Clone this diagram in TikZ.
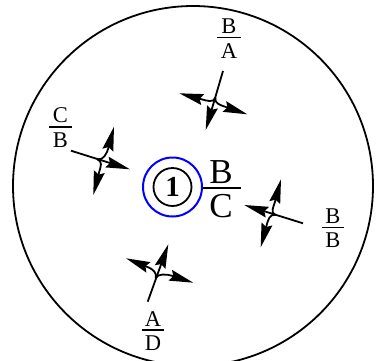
\documentclass[tikz,border=0pt]{standalone}
\usepackage{fontspec}
\setmainfont{Liberation Serif}
\usetikzlibrary{arrows.meta,calc}
\tikzset{
  ring/.style={circle,draw,inner sep=0pt,line width=1.8pt},
  smalltxt/.style={inner sep=0pt,anchor=base,font=\fontsize{22.5}{24}\selectfont},
  bigtxt/.style={inner sep=0pt,anchor=base,font=\fontsize{35}{38}\selectfont},
  bar/.style={line width=1.8pt},
  flow/.style={line width=1.8pt,-{Stealth[length=24pt,width=11pt,inset=3pt]}},
}
% #1 start, #2 junction, #3 straight tip, #4 tip a, #5 base a, #6 tip b, #7 base b
\newcommand{\fourway}[7]{%
  \coordinate (s) at #1; \coordinate (j) at #2; \coordinate (t) at #3;
  \coordinate (ta) at #4; \coordinate (ba) at #5;
  \coordinate (tb) at #6; \coordinate (bb) at #7;
  \draw[flow] (s) -- (t);
  \draw[flow] (j) .. controls ($(j)!-0.22!(s)$) and ($(ba)!-0.2!(ta)$) .. (ba) -- (ta);
  \draw[flow] (j) .. controls ($(j)!-0.22!(s)$) and ($(bb)!-0.2!(tb)$) .. (bb) -- (tb);
}
\begin{document}
\begin{tikzpicture}[x=1pt,y=-1pt]
\useasboundingbox (0,0) rectangle (376,360);
\clip (0,0) rectangle (376,360);
\node[ring,minimum size=360pt] (outer) at (193,186) {};
\node[ring,draw=blue,minimum size=59pt,line width=2pt] (blue) at (172.5,187) {};
\node[ring,minimum size=38pt,font=\fontsize{29}{32}\selectfont\bfseries] (one) at (172.5,187) {1};
% central fraction
\coordinate (barend) at (241,188);
\draw[bar] (blue.east |- barend) -- (barend);
\node[bigtxt] (bb) at (221,183) {B};
\node[bigtxt] (bc) at (221,217) {C};
% top
\node[smalltxt] (t1) at (229,33) {B};
\node[smalltxt] (t2) at (229,58) {A};
\coordinate (t3) at (217,37.5); \coordinate (t4) at (240.5,37.5);
\draw[bar] (t3) -- (t4);
\fourway{(223,71)}{(215.5,97.5)}{(205.7,130)}{(179.3,93.3)}{(201.7,99.3)}{(247.3,114.3)}{(225,106.7)}
% left
\node[smalltxt] (l1) at (60.5,122) {C};
\node[smalltxt] (l2) at (60.5,147) {B};
\coordinate (l3) at (49,126.7); \coordinate (l4) at (72,126.7);
\draw[bar] (l3) -- (l4);
\fourway{(71,150.7)}{(97.3,159.3)}{(130,169.3)}{(114,126.7)}{(108.3,148.3)}{(93.3,195)}{(99.3,171.7)}
% right
\node[smalltxt] (r1) at (333,223) {B};
\node[smalltxt] (r2) at (333,247) {B};
\coordinate (r3) at (322,227.5); \coordinate (r4) at (344,227.5);
\draw[bar] (r3) -- (r4);
\fourway{(303,223.3)}{(275.7,215)}{(244.3,205)}{(281,179.3)}{(275,201.7)}{(260.7,247.3)}{(266.7,225)}
% bottom
\node[smalltxt] (d1) at (153,326) {A};
\node[smalltxt] (d2) at (153,350) {D};
\coordinate (d3) at (141.7,330); \coordinate (d4) at (164,330);
\draw[bar] (d3) -- (d4);
\fourway{(147.7,301.7)}{(155.7,278.3)}{(168.3,244.3)}{(126,258.3)}{(148.3,267.3)}{(193.3,282.7)}{(171.7,275.7)}
\end{tikzpicture}
\end{document}
